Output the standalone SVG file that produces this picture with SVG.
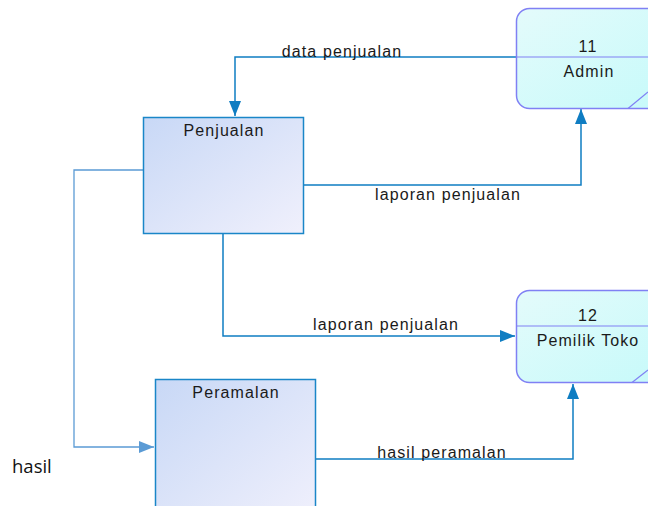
<svg xmlns="http://www.w3.org/2000/svg" width="648" height="506" viewBox="0 0 648 506">
<defs>
<linearGradient id="gp" x1="0" y1="0" x2="1" y2="1"><stop offset="0" stop-color="#c8d8f6"/><stop offset="1" stop-color="#f0f0fc"/></linearGradient>
<linearGradient id="ge" x1="0" y1="0" x2="1" y2="1"><stop offset="0" stop-color="#e4fbfb"/><stop offset="1" stop-color="#c6fafa"/></linearGradient>
<marker id="a" markerWidth="16" markerHeight="14" refX="15" refY="7" orient="auto" markerUnits="userSpaceOnUse"><path d="M0,1 L15,7 L0,13 z" fill="#0f7dc2"/></marker>
<marker id="al" markerWidth="16" markerHeight="14" refX="15" refY="7" orient="auto" markerUnits="userSpaceOnUse"><path d="M0,1 L15,7 L0,13 z" fill="#5b9bd5"/></marker>
</defs>
<style>
.t{font-family:"Liberation Sans",Arial,sans-serif;font-size:16px;letter-spacing:1.1px;fill:#1a1a1a;text-anchor:middle}
.c{fill:none;stroke:#0f7dc2;stroke-width:1.5}
.p{fill:url(#gp);stroke:#1a86c8;stroke-width:1.5}
.e{fill:url(#ge);stroke:#8080f4;stroke-width:1.5}
.d{stroke:#8080f4;stroke-width:1.2}
</style>
<rect width="648" height="506" fill="#fff"/>
<g id="connectors">
<path class="c" d="M516,57 H235 V116" marker-end="url(#a)"/>
<path class="c" d="M303,185 H581 V109" marker-end="url(#a)"/>
<path class="c" d="M223,233 V336 H515" marker-end="url(#a)"/>
<path class="c" d="M315,459 H573 V384" marker-end="url(#a)"/>
<path d="M143,170 H74 V447 H154" fill="none" stroke="#5b9bd5" stroke-width="1.3" marker-end="url(#al)"/>
<text class="t" x="342" y="57">data penjualan</text>
<text class="t" x="448" y="200">laporan penjualan</text>
<text class="t" x="386" y="330">laporan penjualan</text>
<text class="t" x="442" y="458">hasil peramalan</text>
</g>
<g id="admin">
<rect class="e" x="516.5" y="8.5" width="150" height="100" rx="13"/>
<line class="d" x1="516.5" y1="57" x2="648" y2="57"/>
<line class="d" x1="628" y1="108.5" x2="648" y2="92"/>
<text class="t" x="588" y="52">11</text>
<text class="t" x="589" y="77">Admin</text>
</g>
<g id="pemilik">
<rect class="e" x="516.5" y="290.5" width="150" height="92" rx="13"/>
<line class="d" x1="516.5" y1="326" x2="648" y2="326"/>
<line class="d" x1="632" y1="382.5" x2="648" y2="370"/>
<text class="t" x="588" y="321">12</text>
<text class="t" x="588" y="346" letter-spacing="0.5">Pemilik Toko</text>
</g>
<g id="penjualan">
<rect class="p" x="143.5" y="117.5" width="160" height="116"/>
<text class="t" x="224" y="136">Penjualan</text>
</g>
<g id="peramalan">
<rect class="p" x="155.5" y="379.5" width="160" height="140"/>
<text class="t" x="236" y="398">Peramalan</text>
</g>
<text x="12" y="473" font-family="'Open Sans','Liberation Sans',sans-serif" font-size="18.5" fill="#111">hasil</text>
</svg>
